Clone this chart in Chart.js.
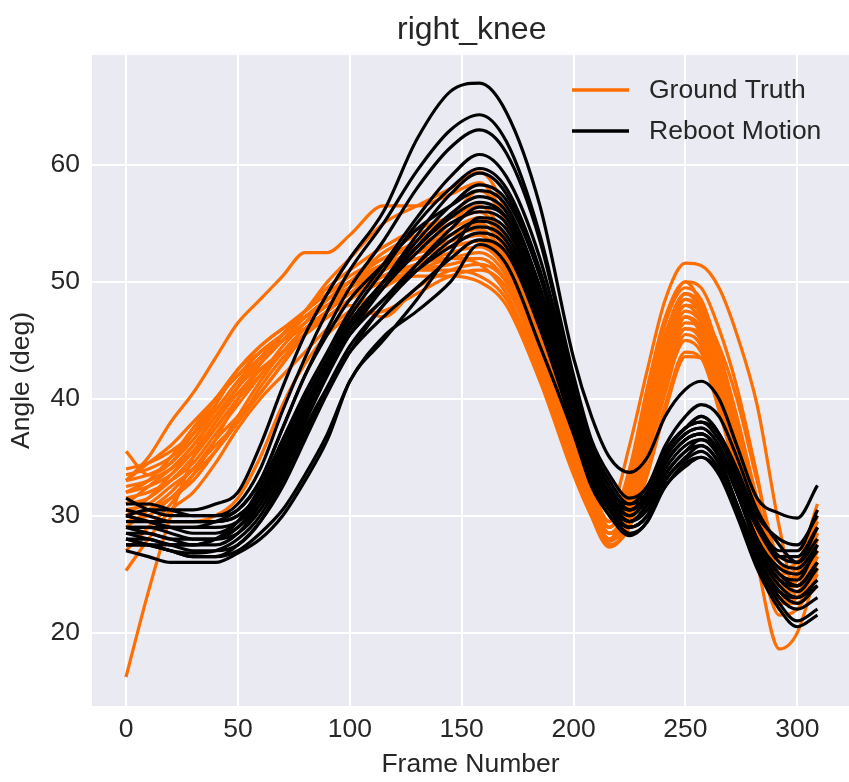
<!DOCTYPE html>
<html>
<head>
<meta charset="utf-8">
<title>right_knee</title>
<script src="https://cdn.jsdelivr.net/npm/chart.js@4.4.0/dist/chart.umd.min.js"></script>
<style>
  html, body { margin: 0; padding: 0; background: #fff; overflow: hidden; }
</style>
</head>
<body>
<canvas id="kneeChart" width="849" height="782"></canvas>
<script>
const frames = [0, 10, 20, 30, 40, 50, 60, 70, 80, 90, 100, 115, 130, 145, 158, 170, 185,
                200, 208, 216, 225, 233, 241, 250, 257, 265, 273, 282, 292, 300, 309];

const groundTruth = [
  [33, 35, 38, 40.5, 43.5, 46.5, 48.5, 50.5, 52.5, 52.5, 54, 56.5, 56.5, 57.5, 58.5, 55, 46, 36.5, 32, 29.5, 34, 41, 47, 50, 48, 43, 37, 30.5, 24, 23.5, 27.5],
  [16.2, 23.5, 30, 35, 39.5, 42.5, 44, 45.5, 47.5, 49.5, 51, 53, 54.5, 55.5, 56, 52.5, 44.5, 35.5, 31, 28.5, 31, 37, 43, 47, 45.5, 40.5, 35, 29, 24.5, 24, 27],
  [35.5, 33.5, 34.5, 37, 39.5, 42.5, 44.5, 46, 47.5, 49, 50.5, 52, 53.5, 55.5, 57.8, 55, 46.5, 36, 31, 28, 31.5, 38.5, 45, 48.5, 47, 41.5, 35, 28.5, 23, 22.5, 26],
  [33.5, 34, 35, 37, 40, 42, 43.5, 45.5, 47.5, 50, 52, 55, 56.5, 58, 59.4, 56, 47, 37, 32.5, 29.5, 33.5, 40, 46.5, 49.5, 48.5, 44, 38, 31, 24.5, 24, 28.5],
  [32.5, 33, 34, 35.5, 38, 41, 43.5, 45, 46, 47, 48.5, 50, 51, 51.5, 52, 50, 43.5, 35, 31, 28.5, 30, 35.5, 41, 45, 44, 39.5, 34.5, 28.5, 23, 23, 26.5],
  [31.5, 32, 33, 34.5, 37, 39.5, 42, 44.5, 46.5, 48.5, 50, 52.5, 54, 55.5, 56.5, 53.5, 45.5, 36.5, 32, 29, 32, 38.5, 44.5, 48, 47.5, 44.5, 40, 33, 26, 25, 28],
  [30.5, 31, 32.5, 34, 36.5, 38.5, 40.5, 43, 45.5, 47.5, 49.5, 51.5, 52, 52, 51.5, 49, 42.5, 34.5, 30.5, 28.5, 29.5, 34, 39.5, 44, 43.5, 39, 33.5, 27.5, 23.5, 24.5, 29],
  [30, 31.5, 33.5, 35.5, 37.5, 40, 42.5, 44, 45.5, 47, 48.5, 50.5, 51.5, 52.5, 53, 51, 44, 35.5, 30.5, 27.5, 29.5, 36, 42.5, 47, 45.5, 40, 34, 27.5, 21.5, 22, 25],
  [32, 33, 34, 36, 38.5, 41, 43, 45, 47, 48.5, 50, 52, 53, 54, 54.5, 52, 45, 36.5, 33, 30.5, 36, 42.5, 48.5, 51.6, 51.4, 49.5, 45.5, 39.5, 29, 23, 26],
  [29, 30.5, 32, 34, 36, 38, 40.5, 43, 45.5, 47.5, 49, 51, 52.5, 53.5, 54, 51.5, 44.5, 35, 30, 27.3, 29.5, 36, 42.5, 47, 46, 41, 34, 26, 18.6, 20, 25.5],
  [27, 29, 31, 33.5, 36.5, 40, 43, 45.5, 47.5, 49, 50, 51.5, 52.5, 53, 53.5, 51, 44, 35, 30.5, 28, 30.5, 36.5, 42, 46, 45, 40, 34, 28.5, 23.5, 23.5, 27],
  [25.3, 28, 30.5, 32, 34.5, 37.5, 40, 42, 44, 46, 47.5, 49.5, 51, 52, 52.5, 50.5, 43.5, 34.5, 30.5, 28, 31.5, 38, 44, 48, 46.5, 41, 35, 29, 24, 25, 29.5],
  [30.5, 30, 29.5, 29.5, 30, 31.5, 35, 39.5, 43, 45.5, 47, 47.5, 49, 50.5, 51, 49.5, 43, 34.5, 30, 27.5, 29, 33.5, 39, 43.6, 43.5, 39.5, 34, 28, 22.5, 23, 26],
  [33, 34.5, 36, 38, 40, 42, 44, 45.5, 47, 48.5, 49.5, 51, 52.5, 54, 55, 52.5, 45, 36, 31.5, 29, 32.5, 39.5, 45.5, 49, 48, 43.5, 37.5, 30.5, 24, 24.5, 28],
  [32, 32.5, 33.5, 35.5, 38, 40.5, 42.5, 44, 45.5, 47, 48, 47, 49.5, 51, 51.5, 50, 43.5, 35.5, 31.5, 29, 33, 40, 46.5, 50, 49.5, 46, 41, 33.5, 25, 25.5, 30.5],
  [31, 32.5, 34, 36, 38.5, 41, 43.5, 45.5, 47, 48, 49, 50.5, 51, 51, 50.5, 48.5, 42, 34, 30, 28, 30.5, 36.5, 42.5, 46.5, 46, 42, 37, 31, 24.5, 25, 30],
  [29.5, 30, 31.5, 33.5, 35.5, 38, 41, 43.5, 45.5, 47, 48.5, 51, 53, 54.5, 55.5, 53, 45.5, 36, 31.5, 28.5, 31.5, 38.5, 44.5, 48.5, 47.5, 43, 37.5, 31, 25.5, 26, 31],
  [32, 33, 35, 37.5, 40, 42.5, 44.5, 46, 47, 48, 49, 50, 50.5, 50.5, 50, 48, 41.5, 33.5, 30, 28, 29.5, 35, 40.5, 45.5, 44.5, 39.5, 34, 28, 22.5, 22.5, 24],
  [31, 31.5, 33, 35, 37.5, 40, 42, 44, 46, 47.5, 49, 51, 52, 53, 53.5, 51.5, 44, 35, 30.5, 28, 31, 37.5, 43.5, 47.5, 46.5, 42, 36, 29.5, 24, 24, 28],
  [33, 33.5, 34.5, 36.5, 39, 41.5, 43.5, 45.5, 47, 48.5, 50, 51.5, 52.5, 53.5, 54, 51.5, 44.5, 36, 31.5, 29, 32.5, 39, 45, 49, 47.5, 42.5, 36.5, 29.5, 23.5, 23.5, 27],
  [30, 30.5, 31.5, 33, 35.5, 38.5, 41.5, 44, 46, 47.5, 49, 50.5, 51.5, 52, 52, 50, 43, 34.5, 30, 27.8, 30, 35.5, 41.5, 46, 45.5, 41.5, 36, 29.5, 23, 23, 26.5],
  [34, 34.5, 35.5, 37, 39, 41.5, 43.5, 45, 46.5, 48, 49.5, 51.5, 53.5, 55, 56, 53, 45.5, 36.5, 32, 29.5, 33, 39.5, 45.5, 49, 48, 44, 38.5, 31.5, 25, 24.5, 28.5]
];

const rebootMotion = [
  [30, 30.5, 30.5, 30.5, 31, 32, 36, 41, 45.5, 49, 52, 56, 62.2, 66.3, 67, 64.5, 56.5, 43.5, 38.5, 35, 33.7, 35, 38.5, 40.8, 41.5, 40, 36, 31.5, 30.2, 29.8, 32.6],
  [31.5, 30.5, 30, 30, 30, 31, 34, 39, 43.5, 47.5, 51, 55, 59.5, 63, 64.3, 62, 54, 42, 36.5, 33.5, 31.5, 32.5, 36, 38.5, 39.5, 38.5, 35, 30.5, 27.5, 26, 28],
  [29, 29, 29, 29, 29.5, 30.5, 33, 37.5, 42, 46, 49.5, 53.5, 58, 61.5, 63, 61, 53.5, 41.5, 36, 33, 31, 32, 35.5, 37.5, 38.5, 37, 33, 29, 26, 25.5, 27.5],
  [28, 28, 27.5, 27.5, 28, 29.5, 32.5, 36.5, 40.5, 44, 47.5, 51.5, 55.5, 59, 60.9, 59, 52, 41, 35.5, 32.5, 30.5, 31.5, 34.5, 36.5, 37, 35.5, 32, 28, 25, 24, 26],
  [30, 29.5, 29, 28.5, 28.5, 29.5, 32, 36, 40, 43.5, 47, 51, 55, 58, 59.7, 58, 51, 40.5, 35.5, 32.5, 30.5, 32, 35.5, 37.5, 38, 36.5, 33.5, 29.5, 27, 27, 30.5],
  [27.5, 27.5, 27.5, 27.5, 28, 29, 31, 34.5, 38.5, 42.5, 46, 50, 54, 57.5, 59.3, 57.5, 50.5, 40, 34.5, 31.5, 29.5, 30.5, 33.5, 35.5, 36, 34.5, 31, 26.5, 23.5, 23, 24.5],
  [29, 29, 28.5, 28, 28, 29, 31.5, 35, 39, 43, 46.5, 50, 53.5, 56.5, 58.3, 57, 50.5, 40, 35, 32, 30, 31.5, 35, 37, 37.5, 36, 32.5, 28, 25.5, 25, 27],
  [28.5, 28.5, 28, 28, 28, 28.5, 30.5, 34, 38, 42, 45.5, 49.5, 53, 55.8, 57.3, 56, 49.5, 39.5, 34.5, 31.5, 29.5, 31, 34.5, 36.5, 37, 35.5, 32, 27.5, 24.5, 23.5, 25.5],
  [28, 27.5, 27, 26.5, 26.5, 27.5, 29.5, 32.5, 36.5, 40.5, 44, 48, 51.5, 54.5, 56.4, 55.5, 49, 39.5, 34, 31, 29, 30, 33.5, 35.5, 36.5, 35, 31, 27, 24, 23, 24],
  [29.5, 29.5, 29.5, 29.5, 29.5, 30, 32, 35.5, 39.5, 43, 46, 49.5, 52.5, 55, 56, 55, 48.5, 39, 34, 31.5, 30.5, 32, 35.5, 37.5, 38, 37, 34, 30, 28, 27.5, 30],
  [27, 26.5, 26, 26, 26, 26.8, 28, 30, 33, 36.5, 41.5, 45, 48.5, 52.5, 55.5, 54.5, 48, 38.5, 33.5, 30.5, 28.5, 29.5, 33, 35, 36, 34.5, 30.5, 26, 22.5, 21, 22],
  [28.5, 28, 27.5, 27, 27, 27.5, 29.5, 33, 37, 41, 44.5, 48, 51, 53.5, 54.7, 53.5, 47, 38, 33.5, 31, 29.5, 31, 34, 36, 36.5, 35.5, 32.5, 29, 26.5, 26.5, 29],
  [30.5, 30, 29.5, 29.5, 29.5, 30, 32, 35.5, 39, 42.5, 45.5, 48.5, 51, 53, 54.2, 53, 46.5, 37.5, 33, 30.5, 29, 30, 33, 34.8, 35.5, 34, 30.5, 26.5, 23, 22, 23],
  [27.5, 27.5, 27, 26.8, 27, 28, 30, 33.5, 37.5, 41, 44, 47, 49.5, 52, 53.6, 52.5, 46, 37.5, 33, 30.5, 29, 30, 32.5, 34.5, 35, 33.5, 30, 25.5, 22, 20.5, 21.5],
  [28, 27.5, 27, 26.5, 26.5, 27, 28.5, 30.5, 33.5, 37, 41.5, 45.3, 47.5, 50, 53.2, 51.5, 44.5, 37, 32.5, 30, 28.3, 29.5, 32.5, 34.2, 35, 33.8, 30.5, 26.5, 23.5, 22.5, 24],
  [31, 31, 30.5, 30, 30, 30.5, 33, 37.5, 42, 45.5, 48.5, 51.5, 54.5, 56.5, 57.8, 56.5, 49.5, 39.5, 34.5, 32, 31, 32.5, 35.5, 37.5, 38.5, 37, 33.5, 29, 26.5, 26, 29],
  [29, 28.5, 28, 27.5, 27.5, 28.5, 31, 35, 39, 42.5, 45.5, 48.5, 51.5, 54, 55.2, 54, 47.5, 38.5, 33.5, 31, 29.5, 31, 34.5, 36.5, 37, 35.5, 32, 27.5, 24.5, 24, 26],
  [30, 29.5, 29, 29, 29, 29.5, 31.5, 35, 39, 43, 46.5, 50, 53, 55.5, 56.8, 55.5, 49, 39, 34, 31.5, 30, 31.5, 35, 37, 37.5, 36, 32.5, 28, 25, 24.5, 27.5]
];

const seriesNames = ['Ground Truth', 'Reboot Motion'];
const xTicks = [0, 50, 100, 150, 200, 250, 300];
const yTicks = [20, 30, 40, 50, 60];

const ORANGE = '#ff6e00';
const BLACK = '#000000';
const TEXT = '#262626';
const FONT = '"Liberation Sans", Arial, sans-serif';

function toPoints(curve) {
  return frames.map((f, i) => ({ x: f, y: curve[i] }));
}

// black is drawn over orange, as in the original figure
const datasets = [];
rebootMotion.forEach(c => datasets.push({ label: seriesNames[1], data: toPoints(c), borderColor: BLACK, order: 0 }));
groundTruth.forEach(c => datasets.push({ label: seriesNames[0], data: toPoints(c), borderColor: ORANGE, order: 1 }));

const figureText = {
  id: 'figureText',
  beforeDraw(chart) {
    const { ctx, chartArea: a } = chart;
    ctx.save();
    ctx.fillStyle = '#eaeaf2';
    ctx.fillRect(a.left, a.top, a.right - a.left, a.bottom - a.top);
    ctx.restore();
  },
  afterDraw(chart) {
    const { ctx } = chart;
    const xs = chart.scales.x;
    ctx.save();
    // title, centred over the axes
    ctx.fillStyle = TEXT;
    ctx.font = '32px ' + FONT;
    ctx.textAlign = 'center';
    ctx.textBaseline = 'alphabetic';
    ctx.fillText('right_knee', xs.getPixelForValue(154.5), 39);

    // legend (upper right, no frame)
    const entries = [[seriesNames[0], ORANGE, 90], [seriesNames[1], BLACK, 131]];
    ctx.font = '26.5px ' + FONT;
    ctx.textAlign = 'left';
    ctx.textBaseline = 'middle';
    entries.forEach(([name, color, y]) => {
      ctx.strokeStyle = color;
      ctx.lineWidth = 3.5;
      ctx.beginPath();
      ctx.moveTo(572, y);
      ctx.lineTo(629, y);
      ctx.stroke();
      ctx.fillStyle = TEXT;
      ctx.fillText(name, 649, y + 1);
    });
    ctx.restore();
  }
};

const tickFont = { family: FONT, size: 26.5 };

new Chart(document.getElementById('kneeChart').getContext('2d'), {
  type: 'line',
  data: { datasets },
  plugins: [figureText],
  options: {
    responsive: false,
    animation: false,
    events: [],
    layout: { padding: { top: 55, right: 0, bottom: 0, left: 0 } },
    elements: {
      point: { radius: 0 },
      line: { borderWidth: 3.2, cubicInterpolationMode: 'monotone', fill: false }
    },
    plugins: {
      legend: { display: false },
      title: { display: false },
      tooltip: { enabled: false }
    },
    scales: {
      x: {
        type: 'linear',
        min: -15.2,
        max: 323.1,
        afterBuildTicks: s => { s.ticks = xTicks.map(v => ({ value: v })); },
        afterFit: s => { s.height = 76; },
        grid: { color: '#ffffff', lineWidth: 2, drawTicks: false },
        border: { display: false },
        ticks: { color: TEXT, font: tickFont, padding: 8, maxRotation: 0 },
        title: { display: true, text: 'Frame Number', color: TEXT, font: tickFont, padding: { top: 0, bottom: 1 } }
      },
      y: {
        type: 'linear',
        min: 13.72,
        max: 69.41,
        afterBuildTicks: s => { s.ticks = yTicks.map(v => ({ value: v })); },
        afterFit: s => { s.width = 92; },
        grid: { color: '#ffffff', lineWidth: 2, drawTicks: false },
        border: { display: false },
        ticks: { color: TEXT, font: tickFont, padding: 12 },
        title: { display: true, text: 'Angle (deg)', color: TEXT, font: tickFont, padding: { top: 6, bottom: 0 } }
      }
    }
  }
});
</script>
</body>
</html>
